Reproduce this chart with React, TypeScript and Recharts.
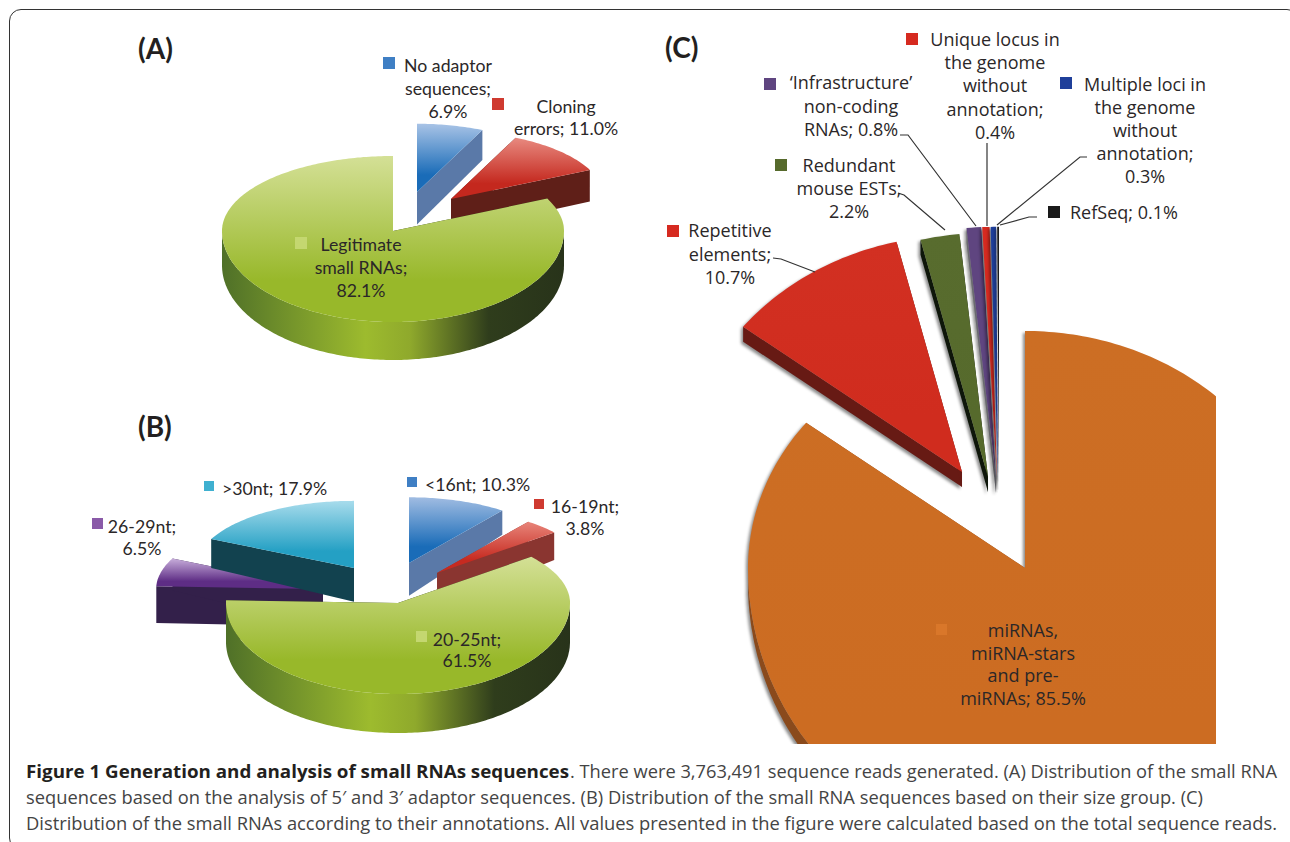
import { PieChart, Pie } from 'recharts';

// Panel A: adaptor analysis
const namesA = ['No adaptor', 'Cloning errors', 'Legitimate'];
const valuesA = [6.9, 11.0, 82.1];
// Panel B: size groups. The order is rotated so that the large slice paints last
const namesB = ['26-29nt', '>30nt', '<16nt', '16-19nt', '20-25nt'];
const valuesB = [6.5, 17.9, 10.3, 3.8, 61.5];
// Panel C: annotations
const namesC = ['miRNAs', 'Repetitive', 'Redundant', 'Infrastructure', 'Unique', 'Multiple', 'RefSeq'];
const valuesC = [85.5, 10.7, 2.2, 0.8, 0.4, 0.3, 0.1];

const toRows = (names: string[], values: number[]) =>
  names.map((name, i) => ({ name, value: values[i] }));

// look of every slice: explosion offset of the tip, radius scale, colours
const sliceStyle: Record<string, any> = {
  'No adaptor': { dx: 24, dy: -39, sc: 0.91, top: ['#a8c3e6', '#1a6cb8'], side: '#5a79a8' },
  'Cloning errors': { dx: 58, dy: -32, sc: 0.9, top: ['#e88a80', '#c4281e'], side: '#5f1f18' },
  Legitimate: { dx: 0, dy: 0, sc: 1, top: ['#d4e096', '#98b82a'], side: '#2a3518', rim: 'greenRim' },
  '<16nt': { dx: 11, dy: -40, sc: 0.9, top: ['#a0bce2', '#1a6cb8'], side: '#5a79a8' },
  '16-19nt': { dx: 39, dy: -30, sc: 0.88, top: ['#e8857a', '#c62a20'], side: '#8a3530' },
  '20-25nt': { dx: 0, dy: 0, sc: 1, top: ['#d4e096', '#98b82a'], side: '#2a3518', rim: 'greenRim' },
  '26-29nt': { dx: -75, dy: -14, sc: 0.97, top: ['#c8aedb', '#5e2d85'], side: '#33204a' },
  '>30nt': { dx: -44, dy: -35, sc: 0.92, top: ['#a8dcec', '#24a0c4'], side: '#12424f' },
  miRNAs: { dx: 0, dy: 0, sc: 1, top: ['#cc6e24', '#cc6c22'], side: '#8a4a1c', rim: '#8a4a1c' },
  Repetitive: { dx: -63, dy: -96, sc: 1, top: ['#d23022', '#d02c1e'], side: '#671a14' },
  Redundant: { dx: -37, dy: -91, sc: 1.03, top: ['#586c2e', '#566a2c'], side: '#0e160a' },
  Infrastructure: { dx: -29, dy: -90, sc: 1.06, top: ['#5f4580', '#5f4580'], side: '#6a6a70' },
  Unique: { dx: -28, dy: -90, sc: 1.06, top: ['#d62a20', '#d62a20'], side: '#777' },
  Multiple: { dx: -27, dy: -90, sc: 1.06, top: ['#1f3f9a', '#1f3f9a'], side: '#555' },
  RefSeq: { dx: -26, dy: -90, sc: 1.06, top: ['#1a1a1a', '#1a1a1a'], side: '#222' },
};

const panelA = { squashTop: 75 / 171, squashBottom: 91 / 171, y0: 130, d0: 30, y1: 322, d1: 38 };
const panelB = { squashTop: 73 / 172, squashBottom: 91 / 172, y0: 510, d0: 24, y1: 600, d1: 39 };
const panelC = {
  squashTop: 237 / 277,
  squashBottom: 282 / 277,
  y0: 0,
  d0: 15,
  y1: 800,
  d1: 15,
  clip: 'url(#clipC)',
  shadow: 'drop-shadow(-2px 2px 1.5px rgba(0,0,0,0.45))',
};

const RAD = Math.PI / 180;

const Slice3D = (props: any, panel: any) => {
  const { cx, cy, outerRadius, startAngle, endAngle, name } = props;
  const st = sliceStyle[name];
  const tipX = cx + st.dx;
  const tipY = cy + st.dy;
  const project = (a: number) => {
    const s = Math.sin(a * RAD);
    const squash = s > 0 ? panel.squashTop : panel.squashBottom;
    return [tipX + Math.cos(a * RAD) * outerRadius * st.sc, tipY - s * outerRadius * squash * st.sc];
  };
  const depth = (y: number) => {
    const t = Math.max(0, Math.min(1, (y - panel.y0) / (panel.y1 - panel.y0)));
    return panel.d0 + t * (panel.d1 - panel.d0);
  };
  const steps = Math.max(2, Math.ceil(Math.abs(endAngle - startAngle)));
  const arc: number[][] = [];
  const angles: number[] = [];
  for (let i = 0; i <= steps; i++) {
    const a = startAngle + ((endAngle - startAngle) * i) / steps;
    angles.push(a);
    arc.push(project(a));
  }
  const toPath = (pts: number[][]) => 'M' + pts.map((p) => p[0].toFixed(1) + ' ' + p[1].toFixed(1)).join('L') + 'Z';
  const down = (p: number[]) => [p[0], p[1] + depth(p[1])];
  const tip = [tipX, tipY];
  const first = arc[0];
  const last = arc[arc.length - 1];
  const front = arc.filter((_, i) => Math.sin(angles[i] * RAD) <= 0.02);
  const rimFill = st.rim && st.rim.startsWith('#') ? st.rim : 'url(#' + st.rim + ')';
  return (
    <g clipPath={panel.clip}>
      <g style={panel.shadow ? { filter: panel.shadow } : undefined}>
        <path d={toPath([tip, first, down(first), down(tip)])} fill={st.side} />
        <path d={toPath([tip, last, down(last), down(tip)])} fill={st.side} />
        {st.rim && front.length > 1 && (
          <path d={toPath([...front, ...front.map(down).reverse()])} fill={rimFill} />
        )}
        <path d={toPath([tip, ...arc])} fill={'url(#top-' + name.replace(/[^A-Za-z0-9]/g, '') + ')'} />
      </g>
    </g>
  );
};

// labels: lines, anchor, first baseline, key square
const labelsA = [
  { lines: ['No adaptor', 'sequences;', '6.9%'], x: 448, y: 72, step: 23, key: [383, 57, 12], color: '#3f7fc4' },
  { lines: ['Cloning', 'errors; 11.0%'], x: 566, y: 113, step: 22, key: [492, 98, 12], color: '#cf3a30' },
  { lines: ['Legitimate', 'small RNAs;', '82.1%'], x: 361, y: 251, step: 23, key: [295, 237, 12], color: '#c4d770' },
];
const labelsB = [
  { lines: ['>30nt; 17.9%'], x: 222, y: 495, start: true, key: [204, 481, 10], color: '#3fb0d0' },
  { lines: ['<16nt; 10.3%'], x: 425, y: 491, start: true, key: [407, 477, 10], color: '#3f7fc4' },
  { lines: ['16-19nt;', '3.8%'], x: 585, y: 513, step: 22, key: [534, 499, 10], color: '#cf3a30' },
  { lines: ['26-29nt;', '6.5%'], x: 142, y: 533, step: 22, key: [92, 518, 11], color: '#8a5aa8' },
  { lines: ['20-25nt;', '61.5%'], x: 467, y: 646, step: 21, key: [416, 631, 11], color: '#c4d770' },
];
const labelsC = [
  { lines: ['Unique locus in', 'the genome', 'without', 'annotation;', '0.4%'], x: 995, y: 46, step: 23.2, key: [906, 33, 12], color: '#d62a20' },
  { lines: ['\u2018Infrastructure\u2019', 'non-coding', 'RNAs; 0.8%'], x: 851, y: 89, step: 23.5, key: [764, 78, 12], color: '#5f4580' },
  { lines: ['Multiple loci in', 'the genome', 'without', 'annotation;', '0.3%'], x: 1145, y: 91, step: 23, key: [1060, 77, 12], color: '#1f3f9a' },
  { lines: ['Redundant', 'mouse ESTs;', '2.2%'], x: 849, y: 172, step: 23, key: [775, 159, 12], color: '#566a2c' },
  { lines: ['RefSeq; 0.1%'], x: 1070, y: 219, start: true, key: [1048, 206, 12], color: '#1a1a1a' },
  { lines: ['Repetitive', 'elements;', '10.7%'], x: 730, y: 237, step: 23.5, key: [667, 225, 12], color: '#d62a20' },
  { lines: ['miRNAs,', 'miRNA-stars', 'and pre-', 'miRNAs; 85.5%'], x: 1023, y: 637, step: 22.7, key: [936, 624, 11], color: '#d9772a' },
];
const leaders = [
  '773,258 781,259 815,272',
  '898,193 904,195 945,230',
  '900,135 908,135 976,226',
  '987,143 987,226',
  '1087,157 1080,157 997,225',
  '1037,217 1029,217 1000,225',
];
const titles = [
  { text: '(A)', x: 138, y: 59 },
  { text: '(B)', x: 138, y: 437 },
  { text: '(C)', x: 665, y: 58 },
];

const TEXT_FONT = 'Lato, sans-serif';
const CAPTION_FONT = '"Open Sans", sans-serif';

const renderLabels = (list: any[], fontFamily: string, fontSize: number) =>
  list.map((l) => (
    <g key={l.lines[0]}>
      <rect x={l.key[0]} y={l.key[1]} width={l.key[2]} height={l.key[2]} fill={l.color} />
      {l.lines.map((line: string, i: number) => (
        <text
          key={line}
          x={l.x}
          y={l.y + i * (l.step || 0)}
          textAnchor={l.start ? 'start' : 'middle'}
          fontFamily={fontFamily}
          fontSize={fontSize}
          fill="#2b2728"
        >
          {line}
        </text>
      ))}
    </g>
  ));

const Grad = ({ name }: { name: string }) => (
  <linearGradient id={'top-' + name.replace(/[^A-Za-z0-9]/g, '')} x1="0" y1="0" x2="0" y2="1">
    <stop offset="0%" stopColor={sliceStyle[name].top[0]} />
    <stop offset="75%" stopColor={sliceStyle[name].top[1]} />
  </linearGradient>
);

export default function App() {
  return (
    <div style={{ position: 'absolute', left: 0, top: 0, width: 1290, height: 842, overflow: 'hidden', background: '#fff' }}>
      <div
        style={{
          position: 'absolute',
          left: 9,
          top: 9,
          width: 1290,
          height: 841,
          border: '1.5px solid #333',
          borderRadius: 12,
          boxSizing: 'border-box',
        }}
      />
      <PieChart width={1290} height={842} margin={{ top: 0, right: 0, bottom: 0, left: 0 }}>
        <defs>
          {Object.keys(sliceStyle).map((n) => (
            <Grad key={n} name={n} />
          ))}
          <linearGradient id="greenRim" x1="0" y1="0" x2="1" y2="0">
            <stop offset="0%" stopColor="#4f7028" />
            <stop offset="42%" stopColor="#9dbb2e" />
            <stop offset="55%" stopColor="#8fa92c" />
            <stop offset="78%" stopColor="#2f3d1c" />
            <stop offset="100%" stopColor="#28331a" />
          </linearGradient>
          <clipPath id="clipC">
            <rect x={700} y={200} width={516} height={544} />
          </clipPath>
        </defs>
        <Pie
          data={toRows(namesA, valuesA)}
          dataKey="value"
          nameKey="name"
          cx={393}
          cy={231}
          outerRadius={171}
          startAngle={90}
          endAngle={-270}
          stroke="none"
          isAnimationActive={false}
          shape={(p: any) => Slice3D(p, panelA)}
        />
        <Pie
          data={toRows(namesB, valuesB)}
          dataKey="value"
          nameKey="name"
          cx={398}
          cy={603}
          outerRadius={172}
          startAngle={177.84}
          endAngle={-182.16}
          stroke="none"
          isAnimationActive={false}
          shape={(p: any) => Slice3D(p, panelB)}
        />
        <Pie
          data={toRows(namesC, valuesC)}
          dataKey="value"
          nameKey="name"
          cx={1025}
          cy={568}
          outerRadius={277}
          startAngle={90}
          endAngle={-270}
          stroke="none"
          isAnimationActive={false}
          shape={(p: any) => Slice3D(p, panelC)}
        />
      </PieChart>
      {/* pies paint above chart children, so the texts sit in their own layer */}
      <svg width={1290} height={842} style={{ position: 'absolute', left: 0, top: 0 }}>
        {leaders.map((pts) => (
          <polyline key={pts} points={pts} fill="none" stroke="#333" strokeWidth={1.2} />
        ))}
        {renderLabels(labelsA, TEXT_FONT, 17.7)}
        {renderLabels(labelsB, TEXT_FONT, 17.7)}
        {renderLabels(labelsC, CAPTION_FONT, 18)}
        {titles.map((t) => (
          <text key={t.text} x={t.x} y={t.y} fontFamily={TEXT_FONT} fontWeight={700} fontSize={28} fill="#231f20">
            {t.text}
          </text>
        ))}
        <text x={26} y={778} fontFamily={CAPTION_FONT} fontWeight={700} fontSize={18} fill="#231f20" textLength={543} lengthAdjust="spacingAndGlyphs">
          Figure 1 Generation and analysis of small RNAs sequences
        </text>
        <text x={570} y={778} fontFamily={CAPTION_FONT} fontSize={18} fill="#444" textLength={707} lengthAdjust="spacingAndGlyphs">
          . There were 3,763,491 sequence reads generated. (A) Distribution of the small RNA
        </text>
        <text x={26} y={804} fontFamily={CAPTION_FONT} fontSize={18} fill="#444" textLength={1177} lengthAdjust="spacingAndGlyphs">
          sequences based on the analysis of 5′ and 3′ adaptor sequences. (B) Distribution of the small RNA sequences based on their size group. (C)
        </text>
        <text x={26} y={830} fontFamily={CAPTION_FONT} fontSize={18} fill="#444" textLength={1251} lengthAdjust="spacingAndGlyphs">
          Distribution of the small RNAs according to their annotations. All values presented in the figure were calculated based on the total sequence reads.
        </text>
      </svg>
    </div>
  );
}
